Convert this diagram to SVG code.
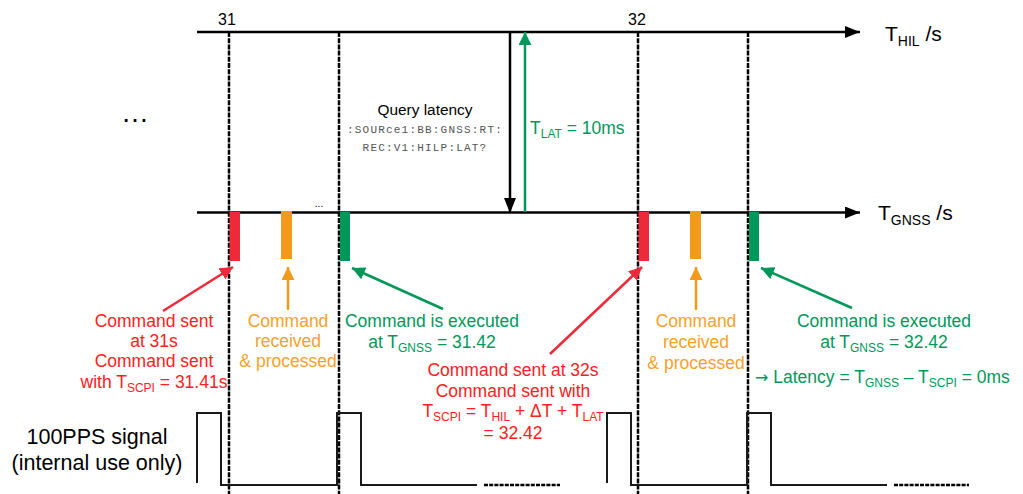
<svg xmlns="http://www.w3.org/2000/svg" width="1023" height="494" viewBox="0 0 1023 494">
<style>
text{font-family:"Liberation Sans",Arial,sans-serif}
.ax{stroke:#000;stroke-width:2.5;fill:none}
.dash{stroke:#000;stroke-width:2.5;stroke-dasharray:5 1.2;fill:none}
.pulse{stroke:#1a1a1a;stroke-width:2;fill:none}
.pdash{stroke:#000;stroke-width:2.5;stroke-dasharray:4 1.2;fill:none}
.red{fill:#FF2020}
.org{fill:#F7A12A}
.grn{fill:#00985A}
.lbl{font-size:17.5px;text-anchor:middle}
.mono{font-family:"Liberation Mono","Courier New",monospace;font-size:11px;letter-spacing:1.2px;fill:#555;text-anchor:middle}
</style>
<defs>
<marker id="mBlk" viewBox="0 0 10 10" refX="10" refY="5" markerUnits="userSpaceOnUse" markerWidth="15" markerHeight="12" preserveAspectRatio="none" orient="auto"><path d="M0,0L10,5L0,10z" fill="#000"/></marker>
<marker id="mRed" viewBox="0 0 10 10" refX="10" refY="5" markerUnits="userSpaceOnUse" markerWidth="13" markerHeight="13" orient="auto"><path d="M0,0L10,5L0,10z" fill="#EE2A3A"/></marker>
<marker id="mOrg" viewBox="0 0 10 10" refX="10" refY="5" markerUnits="userSpaceOnUse" markerWidth="13" markerHeight="13" orient="auto"><path d="M0,0L10,5L0,10z" fill="#F39A1A"/></marker>
<marker id="mGrn" viewBox="0 0 10 10" refX="10" refY="5" markerUnits="userSpaceOnUse" markerWidth="13" markerHeight="13" orient="auto"><path d="M0,0L10,5L0,10z" fill="#00985A"/></marker>
</defs>

<g id="axes">
<line class="ax" x1="197" y1="32" x2="860" y2="32" marker-end="url(#mBlk)"/>
<line class="ax" x1="197" y1="212.5" x2="860" y2="212.5" marker-end="url(#mBlk)"/>
<text x="885" y="41" font-size="21">T<tspan font-size="14" dy="5">HIL</tspan><tspan dy="-5"> /s</tspan></text>
<text x="878" y="220" font-size="21">T<tspan font-size="14" dy="5">GNSS</tspan><tspan dy="-5"> /s</tspan></text>
<text x="227" y="25" font-size="16" text-anchor="middle">31</text>
<text x="637" y="25" font-size="16" text-anchor="middle">32</text>
<text x="135" y="122" font-size="28" text-anchor="middle">…</text>
<text x="319" y="207" font-size="10" text-anchor="middle">...</text>
</g>

<g id="gridlines">
<line class="dash" x1="229" y1="32" x2="229" y2="494"/>
<line class="dash" x1="339" y1="32" x2="339" y2="494"/>
<line class="dash" x1="638" y1="32" x2="638" y2="494"/>
<line class="dash" x1="748" y1="32" x2="748" y2="494"/>
</g>

<g id="events">
<rect x="229.5" y="212" width="10.5" height="49" fill="#EE2A3A"/>
<rect x="281" y="211" width="11" height="48" fill="#F39A1A"/>
<rect x="340" y="212" width="10" height="49" fill="#00985A"/>
<rect x="638.5" y="212" width="10.5" height="49" fill="#EE2A3A"/>
<rect x="690" y="211" width="11" height="48" fill="#F39A1A"/>
<rect x="749" y="212" width="10" height="49" fill="#00985A"/>
</g>

<g id="latency">
<line x1="510" y1="32" x2="510" y2="213" stroke="#000" stroke-width="2.5" marker-end="url(#mBlk)"/>
<line x1="525" y1="212" x2="525" y2="32" stroke="#00985A" stroke-width="2.5" marker-end="url(#mGrn)"/>
<text x="530" y="134" class="grn" font-size="17.5">T<tspan font-size="12" dy="4">LAT</tspan><tspan dy="-4"> = 10ms</tspan></text>
<text x="425" y="115" font-size="15.4" text-anchor="middle">Query latency</text>
<text x="425" y="133" class="mono">:SOURce1:BB:GNSS:RT:</text>
<text x="425" y="151" class="mono">REC:V1:HILP:LAT?</text>
</g>

<g id="connectors">
<line x1="163" y1="311" x2="233" y2="267" stroke="#EE2A3A" stroke-width="2.5" marker-end="url(#mRed)"/>
<line x1="288" y1="310" x2="288" y2="267" stroke="#F39A1A" stroke-width="2.5" marker-end="url(#mOrg)"/>
<line x1="443" y1="309" x2="352" y2="268" stroke="#00985A" stroke-width="2.5" marker-end="url(#mGrn)"/>
<line x1="550" y1="354" x2="642" y2="267" stroke="#EE2A3A" stroke-width="2.5" marker-end="url(#mRed)"/>
<line x1="696" y1="310" x2="696" y2="267" stroke="#F39A1A" stroke-width="2.5" marker-end="url(#mOrg)"/>
<line x1="852" y1="308" x2="761" y2="268" stroke="#00985A" stroke-width="2.5" marker-end="url(#mGrn)"/>
</g>

<g id="note-sent31">
<text x="154" y="327" class="lbl red">Command sent</text>
<text x="154" y="347" class="lbl red">at 31s</text>
<text x="154" y="367" class="lbl red">Command sent</text>
<text x="154" y="388" class="lbl red">with T<tspan font-size="12" dy="4">SCPI</tspan><tspan dy="-4"> = 31.41s</tspan></text>
</g>

<g id="note-recv1">
<text x="288" y="327" class="lbl org">Command</text>
<text x="288" y="347" class="lbl org">received</text>
<text x="288" y="367" class="lbl org">&amp; processed</text>
</g>

<g id="note-exec1">
<text x="432" y="327" class="lbl grn">Command is executed</text>
<text x="432" y="348" class="lbl grn">at T<tspan font-size="12" dy="4">GNSS</tspan><tspan dy="-4"> = 31.42</tspan></text>
</g>

<g id="note-sent32">
<text x="513" y="376" class="lbl red">Command sent at 32s</text>
<text x="513" y="397" class="lbl red">Command sent with</text>
<text x="513" y="417" class="lbl red">T<tspan font-size="12" dy="3.5">SCPI</tspan><tspan dy="-3.5"> = T</tspan><tspan font-size="12" dy="3.5">HIL</tspan><tspan dy="-3.5"> + ΔT + T</tspan><tspan font-size="12" dy="3.5">LAT</tspan></text>
<text x="513" y="439" class="lbl red">= 32.42</text>
</g>

<g id="note-recv2">
<text x="696" y="327" class="lbl org">Command</text>
<text x="696" y="348" class="lbl org">received</text>
<text x="696" y="369" class="lbl org">&amp; processed</text>
</g>

<g id="note-exec2">
<text x="884" y="327" class="lbl grn">Command is executed</text>
<text x="884" y="348" class="lbl grn">at T<tspan font-size="12" dy="4">GNSS</tspan><tspan dy="-4"> = 32.42</tspan></text>
<text x="755" y="383" class="grn" font-size="17.5"><tspan font-family="'DejaVu Sans',sans-serif" font-size="16">→</tspan> Latency = T<tspan font-size="12" dy="4">GNSS</tspan><tspan dy="-4"> – T</tspan><tspan font-size="12" dy="4">SCPI</tspan><tspan dy="-4"> = 0ms</tspan></text>
</g>

<g id="pps">
<text x="97" y="444" font-size="21.5" text-anchor="middle">100PPS signal</text>
<text x="97" y="470" font-size="21.5" text-anchor="middle">(internal use only)</text>
<path class="pulse" d="M197,483V413H221V485H337V413H361V485H477"/>
<path class="pdash" d="M484,485H560"/>
<path class="pulse" d="M607,483V413H631V485H747V413H771V485H887"/>
<path class="pdash" d="M894,485H969"/>
</g>
</svg>
